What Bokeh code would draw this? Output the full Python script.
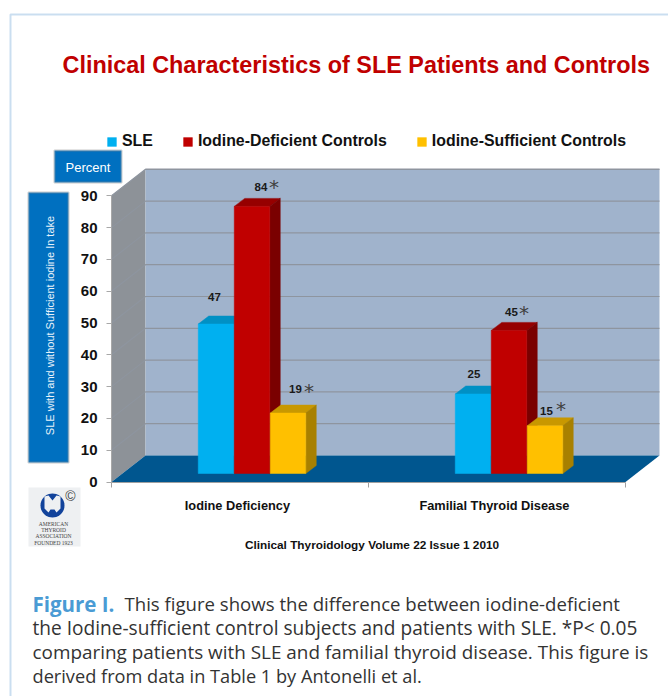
from math import cos, sin, pi
from bokeh.embed import file_html
from bokeh.resources import INLINE
from bokeh.core.properties import value
from bokeh.models import (BoxAnnotation, FixedTicker, Label,
                          Legend, LegendItem, LinearAxis, Range1d)
from bokeh.plotting import figure

# ---------- data ----------
categories = ["Iodine Deficiency", "Familial Thyroid Disease"]
series_names = ["SLE", "Iodine-Deficient Controls", "Iodine-Sufficient Controls"]
sle = [47, 25]
deficient = [84, 45]
sufficient = [19, 15]
starred_def = [True, True]
starred_suf = [True, True]
y_ticks = [0, 10, 20, 30, 40, 50, 60, 70, 80, 90]

title_text = "Clinical Characteristics of SLE Patients and Controls"
source_text = "Clinical Thyroidology Volume 22 Issue 1 2010"
y_title = "SLE with and without Sufficient iodine In take"
caption_lines = ["the Iodine-sufficient control subjects and patients with SLE. *P< 0.05",
                 "comparing patients with SLE and familial thyroid disease. This figure is",
                 "derived from data in Table 1 by Antonelli et al."]

# ---------- layout ----------
W, H = 668, 696
ORIGIN_X, ORIGIN_Y = 111, 481.5
PX_CAT = 257.0      # pixels per category
PX_VAL = 3.18       # pixels per percent
SANS = "Liberation Sans"

def X(px):
    return (px - ORIGIN_X) / PX_CAT

def Y(py):
    return (ORIGIN_Y - py) / PX_VAL

DEPTH_X, DEPTH_Y = 34 / PX_CAT, 26.5 / PX_VAL      # floor depth
PLANE_X, PLANE_Y = 12 / PX_CAT, 8.5 / PX_VAL       # plane of the bar fronts
BAR_DX, BAR_DY = 10.5 / PX_CAT, 8 / PX_VAL         # bar depth
BAR_W = 35.5 / PX_CAT
BAR_STEP = 36 / PX_CAT
MAX_V = y_ticks[-1]

p = figure(width=W, height=H, output_backend="svg", toolbar_location=None,
           x_range=Range1d(X(0), X(W)), y_range=Range1d(Y(H), Y(0)),
           min_border=0, x_axis_type=None, y_axis_type=None, outline_line_color=None,
           background_fill_color="#ffffff", border_fill_color="#ffffff")
p.grid.visible = False

# chart box: side wall, back wall, floor
p.patch([0, DEPTH_X, DEPTH_X, 0], [0, DEPTH_Y, MAX_V + DEPTH_Y, MAX_V],
        fill_color="#8D9298", line_color=None)
p.quad(left=DEPTH_X, right=2 + DEPTH_X, bottom=DEPTH_Y, top=MAX_V + DEPTH_Y,
       fill_color="#A0B3CC", line_color=None)
p.line([DEPTH_X, 2 + DEPTH_X], [MAX_V + DEPTH_Y] * 2, line_color="#b8bcc2", line_width=1.5)
for t in y_ticks[1:]:
    p.line([0, DEPTH_X, 2 + DEPTH_X], [t, t + DEPTH_Y, t + DEPTH_Y],
           line_color="#8E959F", line_width=1.2)
p.patch([0, 2, 2 + DEPTH_X, DEPTH_X], [0, 0, DEPTH_Y, DEPTH_Y],
        fill_color="#00568F", line_color=None)

# axes, fixed on the front edge of the floor
yax = LinearAxis(fixed_location=0, ticker=FixedTicker(ticks=y_ticks), bounds=(0, MAX_V),
                 axis_line_color="#a8a8a8", major_tick_line_color="#a8a8a8",
                 major_tick_out=5, major_tick_in=0, minor_tick_line_color=None,
                 major_label_text_font=SANS, major_label_text_font_style="bold",
                 major_label_text_font_size="15px", major_label_text_color="#111111",
                 major_label_standoff=9)
p.add_layout(yax, "left")
xax = LinearAxis(fixed_location=0, ticker=FixedTicker(ticks=[0, 1, 2]), bounds=(0, 2),
                 axis_line_color="#a0a0a0", major_tick_line_color="#a0a0a0",
                 major_tick_out=5, major_tick_in=0, minor_tick_line_color=None,
                 major_label_overrides={0: "", 1: "", 2: ""})
p.add_layout(xax, "below")

# category names sit about half-way along each category
cat_ticks = [i + 0.49 for i in range(len(categories))]
cax = LinearAxis(fixed_location=0, ticker=FixedTicker(ticks=cat_ticks), axis_line_color=None,
                 major_tick_line_color=None, minor_tick_line_color=None, major_label_text_font=SANS,
                 major_label_overrides={t: c for t, c in zip(cat_ticks, categories)},
                 major_label_text_font_style="bold", major_label_text_font_size="12.8px",
                 major_label_text_color="#111111", major_label_standoff=10)
p.add_layout(cax, "below")

# bars
colours = [("#00B0F0", "#0090C4", "#0088B8"),
           ("#C00000", "#960000", "#7A0000"),
           ("#FFC000", "#C89800", "#A88000")]
legend_items = []
for s, (vals, cols) in enumerate(zip([sle, deficient, sufficient], colours)):
    front, top, side = cols
    xs = [i + 0.5 + PLANE_X + (s - 1) * BAR_STEP for i in range(len(vals))]
    tops = [v + PLANE_Y for v in vals]
    top_xs = [[x - BAR_W / 2, x + BAR_W / 2, x + BAR_W / 2 + BAR_DX, x - BAR_W / 2 + BAR_DX] for x in xs]
    top_ys = [[t, t, t + BAR_DY, t + BAR_DY] for t in tops]
    side_xs = [[x + BAR_W / 2, x + BAR_W / 2 + BAR_DX, x + BAR_W / 2 + BAR_DX, x + BAR_W / 2] for x in xs]
    side_ys = [[PLANE_Y, PLANE_Y + BAR_DY, t + BAR_DY, t] for t in tops]
    p.patches(top_xs, top_ys, fill_color=top, line_color=top, line_width=0.5)
    p.patches(side_xs, side_ys, fill_color=side, line_color=side, line_width=0.5)
    r = p.vbar(x=xs, top=tops, bottom=PLANE_Y, width=BAR_W, fill_color=front, line_color=front,
               line_width=0.5)
    legend_items.append(LegendItem(label=series_names[s], renderers=[r]))

legend = Legend(items=legend_items, orientation="horizontal", location=(106, H - 150), margin=0, padding=0,
                spacing=29, glyph_width=11, glyph_height=11, label_standoff=5,
                border_line_color=None, background_fill_alpha=0,
                label_text_font=SANS, label_text_font_size="15.9px", label_text_color="#111111",
                label_text_font_style="bold", label_height=18)
p.add_layout(legend, "center")

# value labels
all_vals = [sle, deficient, sufficient]
lab_dx = [[-1.5, 1], [9, 2.5], [7.5, 1.5]]      # pixels from bar centre
lab_dy = [[27, 20], [19, 18], [24, 15]]  # pixels above bar top
star_dx = [[0, 0], [22, 15], [21, 16]]
star_dy = [[0, 0], [3, 2], [1, 5]]
stars = [[False, False], starred_def, starred_suf]
for s, vals in enumerate(all_vals):
    for i, v in enumerate(vals):
        cx = i + 0.5 + PLANE_X + (s - 1) * BAR_STEP
        ty = v + PLANE_Y + lab_dy[s][i] / PX_VAL
        p.text([cx + lab_dx[s][i] / PX_CAT], [ty], text=[str(v)], text_font=value(SANS),
               text_font_style="bold", text_font_size="11.5px", text_color="#1a1a1a",
               text_align="center", text_baseline="middle")
        if stars[s][i]:
            p.text([cx + star_dx[s][i] / PX_CAT], [ty + (star_dy[s][i] - 3) / PX_VAL], text=["*"],
                   text_font=value("DejaVu Sans"), text_font_size="20px", text_color="#404040",
                   text_align="center", text_baseline="middle")

# title
p.add_layout(Label(x=X(62), y=Y(64), text=title_text, text_color="#C00000", text_baseline="middle",
                   text_font=SANS, text_font_style="bold", text_font_size="23.4px"))

# blue tags
for l, r, t, b in [(54, 121, 150, 182), (28, 68, 192, 462)]:
    p.add_layout(BoxAnnotation(left=X(l), right=X(r), top=Y(t), bottom=Y(b), fill_color="#0070C0",
                               fill_alpha=1, line_color="#8c8c8c", line_width=2.5))
p.add_layout(Label(x=X(87.5), y=Y(167), text="Percent", text_color="#ffffff", text_align="center",
                   text_baseline="middle", text_font=SANS, text_font_size="13px"))
p.add_layout(Label(x=X(49), y=Y(325), text=y_title, angle=pi / 2, text_color="#e8f2fa", text_align="center",
                   text_baseline="middle", text_font=SANS, text_font_size="11px"))

# society logo
p.add_layout(BoxAnnotation(left=X(28), right=X(80), top=Y(487), bottom=Y(546), fill_color="#eef0f2",
                           fill_alpha=1, line_color=None, level="underlay"))
n = 40
p.patch([X(52 + 12 * cos(2 * pi * k / n)) for k in range(n)],
        [Y(505 + 12 * sin(2 * pi * k / n)) for k in range(n)],
        fill_color="#12439B", line_color=None)
p.patch([X(a) for a in (44, 48, 52, 56, 60, 60, 56, 54, 50, 48, 44)],
        [Y(a) for a in (496, 495, 500, 495, 496, 508, 512, 509, 509, 512, 508)],
        fill_color="#eef0f2", line_color=None)
p.add_layout(Label(x=X(70), y=Y(495), text="©", text_color="#444444", text_align="center", text_baseline="middle",
                   text_font=SANS, text_font_size="14px"))
for txt, py in [("AMERICAN", 523), ("THYROID", 529), ("ASSOCIATION", 535), ("FOUNDED 1923", 542)]:
    p.add_layout(Label(x=X(53), y=Y(py), text=txt, text_color="#444444", text_align="center", text_baseline="middle",
                       text_font="Liberation Serif", text_font_size="5.5px"))

# source line and caption
p.add_layout(Label(x=X(371.5), y=Y(544), text=source_text, text_color="#111111", text_align="center",
                   text_baseline="middle", text_font=SANS, text_font_style="bold",
                   text_font_size="11.8px"))
p.add_layout(Label(x=X(32), y=Y(603), text="Figure I.", text_color="#4A9BD4", text_baseline="middle",
                   text_font="Open Sans", text_font_style="bold", text_font_size="20.5px"))
p.add_layout(Label(x=X(124), y=Y(603), text="This figure shows the difference between iodine-deficient",
                   text_color="#333333", text_baseline="middle", text_font="Open Sans", text_font_size="18.6px"))
for line, py, size in zip(caption_lines, (627, 651, 675), ("19.1px", "18.9px", "18.2px")):
    p.add_layout(Label(x=X(32), y=Y(py), text=line, text_color="#333333", text_baseline="middle",
                       text_font="Open Sans", text_font_size=size))

# page frame
p.add_layout(BoxAnnotation(left=X(10), right=X(720), top=Y(14), bottom=Y(760), fill_alpha=0,
                           line_color="#4F93CE", line_width=2))

open("out.html", "w").write(file_html(p, INLINE))
